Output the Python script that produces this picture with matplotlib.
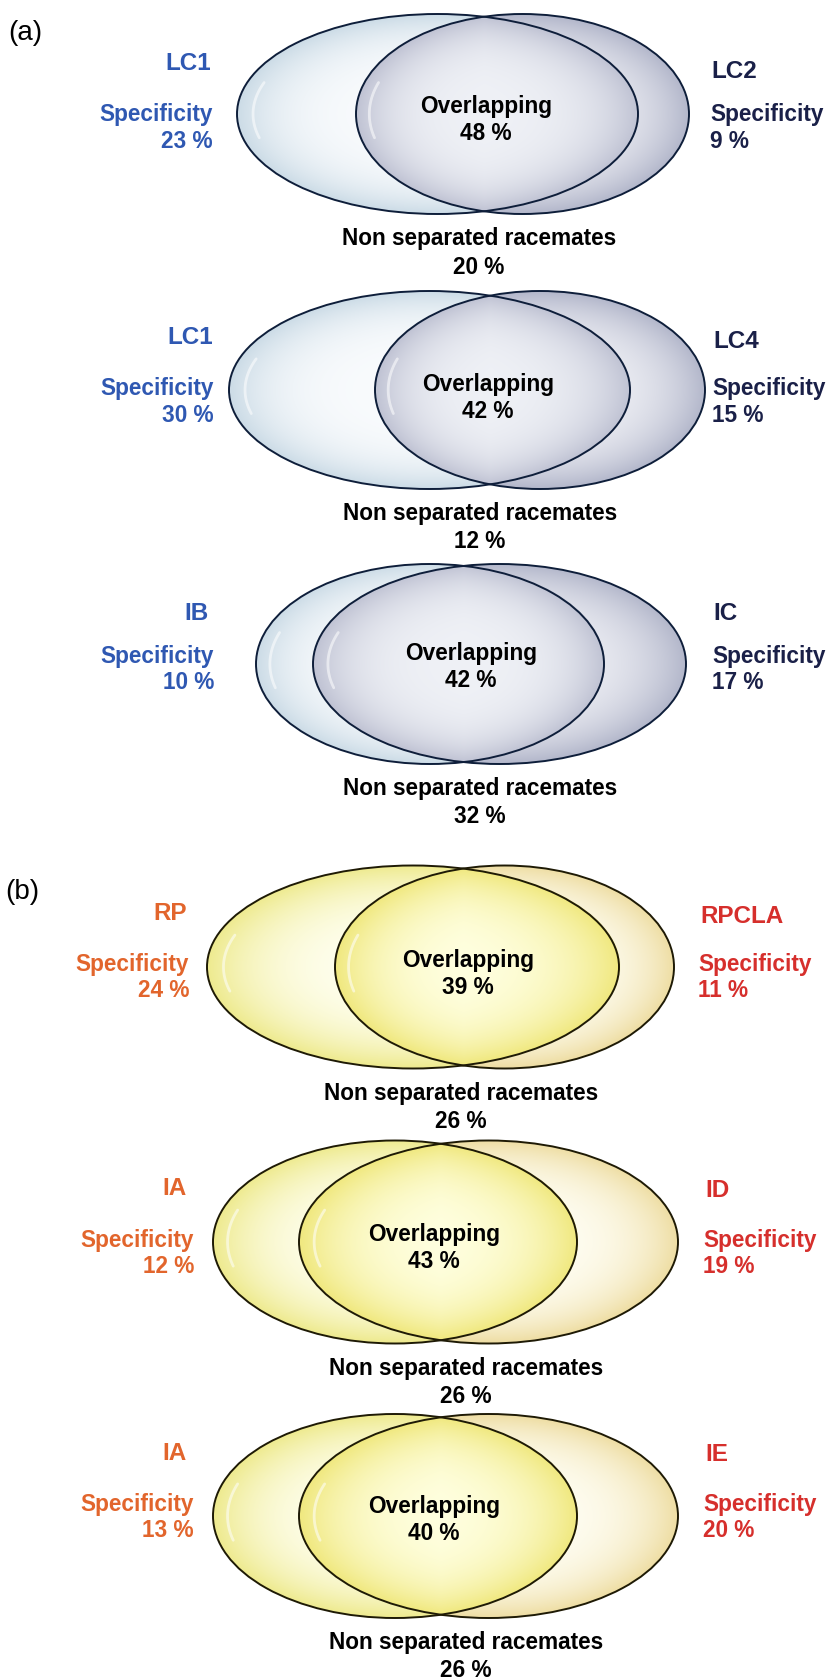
import numpy as np
import matplotlib
matplotlib.use("Agg")
import matplotlib.pyplot as plt
from matplotlib.patches import Ellipse
from matplotlib.colors import to_rgb

plt.rcParams["font.family"] = ["Liberation Sans", "DejaVu Sans"]

# ---- data -------------------------------------------------------------
panel_tags = ["(a)", "(b)"]
left_names = ["LC1", "LC1", "IB", "RP", "IA", "IA"]
right_names = ["LC2", "LC4", "IC", "RPCLA", "ID", "IE"]
left_spec = [23, 30, 10, 24, 12, 13]
right_spec = [9, 15, 17, 11, 19, 20]
overlap = [48, 42, 42, 39, 43, 40]
non_sep = [20, 12, 32, 26, 26, 26]
group = [0, 0, 0, 1, 1, 1]

# ---- layout (pixel space) ----------------------------------------------
cy = [115, 391, 665, 968, 1243, 1517]
ell_h = [200, 198, 200, 203, 203, 204]
left_x = [(237, 638), (229, 630), (256, 604), (207, 619), (213, 577), (213, 577)]
right_x = [(356, 689), (375, 705), (313, 686), (335, 674), (299, 678), (299, 678)]
name_dy = [(-54, -46), (-56, -51), (-53, -53), (-56, -53), (-56, -54), (-65, -64)]
spec_dy = [-2, -4, -10, -5, -4, -14]
over_dy = [-10, -9, -13, -9, -10, -12]
over_x = [486, 488, 471, 468, 434, 434]
nonsep_x = [479, 480, 480, 461, 466, 466]
lab_left = [(211, 213), (213, 214), (209, 214), (187, 189), (187, 194), (187, 194)]
lab_right = [(711, 710), (713, 712), (713, 712), (700, 698), (705, 703), (705, 703)]
tag_pos = [(8, 33), (5, 892)]

# colours per panel: (centre, rim, gradient power) for left, right, overlap
palettes = [
    dict(left=("#F9FBFD", "#CBDBE6", 4.0), right=("#F0F1F6", "#B2B6CA", 3.0),
         over=("#EFF1F6", "#BFC2D3", 4.0), edge="#0E1E3A",
         ltxt="#2F58B2", rtxt="#1A2048"),
    dict(left=("#FFFFF0", "#EEEA8E", 3.0), right=("#FFFEF4", "#EEDDA2", 3.5),
         over=("#FFFFE0", "#F0E87E", 3.0), edge="#1E1A05",
         ltxt="#E2652C", rtxt="#D62F2C"),
]

W, H = 830, 1681
fig = plt.figure(figsize=(W / 100, H / 100), dpi=100)
ax = fig.add_axes([0, 0, 1, 1])


def mix(c_in, c_out, p, r):
    a = np.array(to_rgb(c_in))
    b = np.array(to_rgb(c_out))
    t = np.clip(r, 0, 1)[..., None] ** p
    return a + (b - a) * t


fs_body, fs_name = 16.3, 17.5
for i in range(6):
    pal = palettes[group[i]]
    c = cy[i]
    h = ell_h[i]
    lx0, lx1 = left_x[i]
    rx0, rx1 = right_x[i]
    lcx, lw = (lx0 + lx1) / 2, lx1 - lx0
    rcx, rw = (rx0 + rx1) / 2, rx1 - rx0

    x0, x1 = min(lx0, rx0) - 2, max(lx1, rx1) + 2
    y0, y1 = c - h / 2 - 2, c + h / 2 + 2
    xs = np.arange(x0, x1, 0.5) + 0.25
    ys = np.arange(y0, y1, 0.5) + 0.25
    X, Y = np.meshgrid(xs, ys)
    rl = np.sqrt(((X - lcx) / (lw / 2)) ** 2 + ((Y - c) / (h / 2)) ** 2)
    rr = np.sqrt(((X - rcx) / (rw / 2)) ** 2 + ((Y - c) / (h / 2)) ** 2)

    lpatch = Ellipse((lcx, c), lw, h, fc="none", ec="none")
    rpatch = Ellipse((rcx, c), rw, h, fc="none", ec="none")
    ax.add_patch(lpatch)
    ax.add_patch(rpatch)

    ext = (x0, x1, y1, y0)
    im = ax.imshow(mix(*pal["left"], rl), extent=ext, origin="upper",
                   aspect="auto", interpolation="bilinear", zorder=1)
    im.set_clip_path(lpatch)
    im = ax.imshow(mix(*pal["right"], rr), extent=ext, origin="upper",
                   aspect="auto", interpolation="bilinear", zorder=2)
    im.set_clip_path(rpatch)
    ov = mix(*pal["over"], np.maximum(rl, rr))
    alpha = ((rl <= 1.0) & (rr <= 1.0)).astype(float)[..., None]
    im = ax.imshow(np.concatenate([ov, alpha], axis=2), extent=ext, origin="upper",
                   aspect="auto", interpolation="bilinear", zorder=3)
    im.set_clip_path(rpatch)

    # glossy highlight on the left side of each ellipse
    for cxx, ww in [(lcx, lw), (rcx, rw)]:
        t = np.linspace(np.radians(160), np.radians(195), 40)
        ax.plot(cxx + 0.92 * ww / 2 * np.cos(t), c - 0.92 * h / 2 * np.sin(t),
                color="white", lw=2.0, alpha=0.55, solid_capstyle="round", zorder=4)

    for cxx, ww in [(lcx, lw), (rcx, rw)]:
        ax.add_patch(Ellipse((cxx, c), ww, h, fc="none", ec=pal["edge"],
                             lw=1.4, zorder=5))

    # texts
    ax.text(lab_left[i][0], c + name_dy[i][0] + 2, left_names[i], ha="right",
            va="center", fontsize=fs_name, fontweight="bold", color=pal["ltxt"])
    ax.text(lab_right[i][0], c + name_dy[i][1] + 2, right_names[i], ha="left",
            va="center", fontsize=fs_name, fontweight="bold", color=pal["rtxt"])
    sy = c + spec_dy[i] + 2
    ax.text(lab_left[i][1], sy, "Specificity", ha="right", va="center",
            fontsize=fs_body, fontweight="bold", color=pal["ltxt"])
    ax.text(lab_left[i][1], sy + 26, f"{left_spec[i]} %", ha="right", va="center",
            fontsize=fs_body, fontweight="bold", color=pal["ltxt"])
    ax.text(lab_right[i][1], sy, "Specificity", ha="left", va="center",
            fontsize=fs_body, fontweight="bold", color=pal["rtxt"])
    ax.text(lab_right[i][1], sy + 26, f"{right_spec[i]} %", ha="left", va="center",
            fontsize=fs_body, fontweight="bold", color=pal["rtxt"])
    oy = c + over_dy[i] + 2
    ax.text(over_x[i], oy, "Overlapping", ha="center", va="center",
            fontsize=fs_body, fontweight="bold", color="black", zorder=6)
    ax.text(over_x[i], oy + 27, f"{overlap[i]} %", ha="center", va="center",
            fontsize=fs_body, fontweight="bold", color="black", zorder=6)
    ny = c + h / 2 + 24
    ax.text(nonsep_x[i], ny, "Non separated racemates", ha="center", va="center",
            fontsize=fs_body, fontweight="bold", color="black")
    ax.text(nonsep_x[i], ny + 28, f"{non_sep[i]} %", ha="center", va="center",
            fontsize=fs_body, fontweight="bold", color="black")

for tag, (tx, ty) in zip(panel_tags, tag_pos):
    ax.text(tx, ty, tag, ha="left", va="center", fontsize=20, color="black")

ax.set_xlim(0, W)
ax.set_ylim(H, 0)
ax.axis("off")
fig.savefig("out.png", dpi=100, facecolor="white")
